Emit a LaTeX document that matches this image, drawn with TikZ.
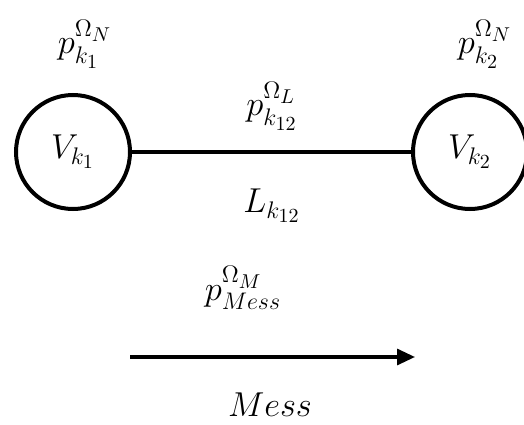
\documentclass[tikz,border=0pt]{standalone}
\usepackage{amsmath,amssymb}
\usetikzlibrary{arrows.meta,positioning}
\DeclareMathSizes{16}{16}{12}{10}

\begin{document}
\begin{tikzpicture}[>={Triangle[length=9pt,width=8pt]}, x=0.5pt, y=0.5pt,
    vertex/.style={draw, circle, line width=2pt, minimum size=57pt, inner sep=0pt, font=\fontsize{16}{19}\selectfont},
    lbl/.style={font=\fontsize{16}{19}\selectfont, inner sep=1pt}]
  \useasboundingbox (0,0) rectangle (524,424);
  % vertices and link
  \node[vertex] (v1) at (73,272) {$V_{k_1}$};
  \node[vertex] (v2) at (470,272) {$V_{k_2}$};
  \draw[line width=1.6pt] (v1) -- (v2);
  \node[lbl] (pn1) at (85,380) {$p_{k_1}^{\Omega_N}$};
  \node[lbl] (pn2) at (485,380) {$p_{k_2}^{\Omega_N}$};
  \node[lbl] (pl) at (272,318) {$p_{k_{12}}^{\Omega_L}$};
  \node[lbl] (lk) at (272,218) {$L_{k_{12}}$};
  % message
  \node[lbl] (pm) at (243,136) {$p_{Mess}^{\Omega_M}$};
  \coordinate (m0) at (130,67);
  \coordinate (m1) at (415,67);
  \draw[->, line width=1.6pt] (m0) -- (m1);
  \node[lbl] (mess) at (270,19) {$Mess$};
\end{tikzpicture}
\end{document}
